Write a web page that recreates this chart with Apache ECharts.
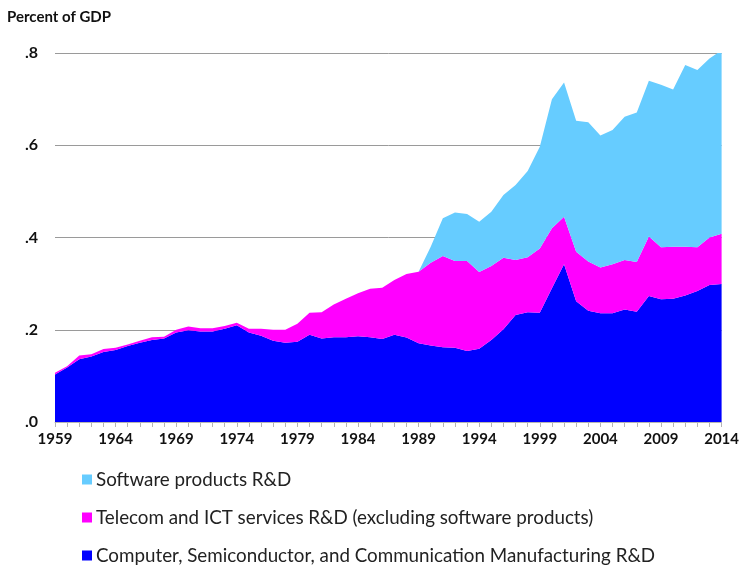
<!DOCTYPE html>
<html>
<head>
<meta charset="utf-8">
<script src="https://cdn.jsdelivr.net/npm/echarts@6/dist/echarts.min.js"></script>
<style>html,body{margin:0;padding:0;background:#fff}#c{width:742px;height:567px}</style>
</head>
<body>
<div id="c"></div>
<script>
var years = [];
for (var y = 1959; y <= 2014; y++) years.push(String(y));

var seriesNames = [
  'Computer, Semiconductor, and Communication Manufacturing R&D',
  'Telecom and ICT services R&D (excluding software products)',
  'Software products R&D'
];

// Manufacturing R&D, % of GDP
var manufacturing = [0.103,0.118,0.136,0.142,0.152,0.156,0.165,0.172,0.178,0.181,
  0.194,0.199,0.196,0.196,0.202,0.210,0.194,0.187,0.176,0.172,
  0.174,0.189,0.181,0.184,0.184,0.186,0.184,0.180,0.189,0.183,
  0.171,0.166,0.162,0.161,0.154,0.159,0.178,0.201,0.232,0.238,
  0.237,0.290,0.342,0.262,0.241,0.236,0.236,0.244,0.239,0.273,
  0.266,0.267,0.274,0.284,0.297,0.299];

// Telecom and ICT services R&D, % of GDP
var telecom = [0.004,0.003,0.008,0.005,0.006,0.005,0.003,0.004,0.006,0.004,
  0.006,0.008,0.007,0.007,0.006,0.005,0.008,0.015,0.024,0.028,
  0.039,0.048,0.057,0.071,0.083,0.093,0.105,0.111,0.119,0.138,
  0.155,0.179,0.198,0.188,0.195,0.166,0.160,0.155,0.119,0.119,
  0.139,0.130,0.103,0.107,0.107,0.099,0.106,0.107,0.108,0.129,
  0.113,0.113,0.106,0.095,0.103,0.109];

// Software products R&D, % of GDP
var software = [0,0,0,0,0,0,0,0,0,0,
  0,0,0,0,0,0,0,0,0,0,
  0,0,0,0,0,0,0,0,0,0,
  0,0.035,0.082,0.105,0.102,0.109,0.118,0.136,0.163,0.187,
  0.221,0.280,0.291,0.284,0.302,0.286,0.291,0.311,0.324,0.338,
  0.352,0.341,0.394,0.384,0.388,0.398];

var yTicks = ['.0', '.2', '.4', '.6', '.8'];

var chart = echarts.init(document.getElementById('c'), null, {renderer: 'canvas'});
function areaSeries(name, data, color) {
  return {
    name: name, type: 'line', stack: 'total', data: data,
    symbol: 'none', showSymbol: false,
    lineStyle: {width: 0},
    areaStyle: {color: color, opacity: 1},
    itemStyle: {color: color},
    emphasis: {disabled: true},
    silent: true
  };
}
function legendFor(name, top) {
  return {
    orient: 'vertical', left: 82, top: top, padding: 0,
    icon: 'rect', itemWidth: 10, itemHeight: 10, itemGap: 0,
    data: [name],
    textStyle: {fontSize: 18.8, color: '#222', fontFamily: 'Lato, sans-serif', padding: [0, 0, 0, -1]},
    selectedMode: false
  };
}
chart.setOption({
  animation: false,
  textStyle: {fontFamily: 'Lato, "Open Sans", sans-serif'},
  title: {
    text: 'Percent of GDP', left: 2, top: 5,
    textStyle: {fontSize: 15, fontWeight: 'bold', color: '#111', fontFamily: 'Lato, sans-serif'}
  },
  grid: {left: 55, right: 18, top: 53, bottom: 145, containLabel: false},
  legend: [
    legendFor(seriesNames[2], 470),
    legendFor(seriesNames[1], 508),
    legendFor(seriesNames[0], 546)
  ],
  xAxis: {
    type: 'category', data: years, boundaryGap: false,
    axisLine: {lineStyle: {color: '#b5b5b5', width: 1}},
    axisTick: {show: true, interval: 0, length: 5, lineStyle: {color: '#b5b5b5'}},
    axisLabel: {interval: 4, fontSize: 15, fontWeight: 'bold', color: '#111', margin: 10},
    splitLine: {show: false}
  },
  yAxis: {
    type: 'value', min: 0, max: 0.8, interval: 0.2,
    axisLine: {show: false}, axisTick: {show: false},
    axisLabel: {
      fontSize: 16, fontWeight: 'bold', color: '#111', margin: 17,
      formatter: function (v) { return yTicks[Math.round(v / 0.2)]; }
    },
    splitLine: {lineStyle: {color: '#9a9a9a', width: 1}}
  },
  series: [
    areaSeries(seriesNames[0], manufacturing, '#0000ff'),
    areaSeries(seriesNames[1], telecom, '#ff00ff'),
    areaSeries(seriesNames[2], software, '#66ccff')
  ]
});
</script>
</body>
</html>
